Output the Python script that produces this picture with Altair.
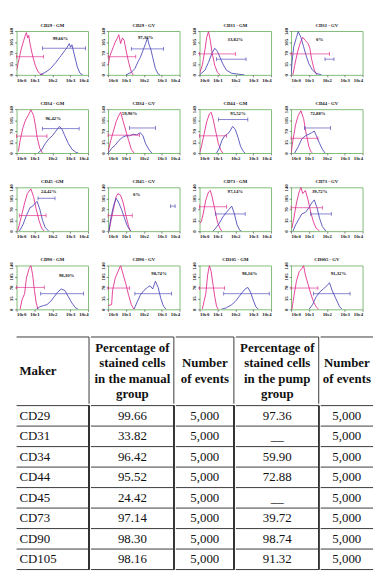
import altair as alt
import pandas as pd

SERIF = "Liberation Serif"
PINK = "#e0288a"
BLUE = "#4a46b8"
GREEN = "#7dbb73"
LINE = "#333333"

# ---------------- histogram panels ----------------
panels = ["CD29 - GM", "CD29 - GV", "CD31 - GM", "CD31 - GV",
          "CD34 - GM", "CD34 - GV", "CD44 - GM", "CD44 - GV",
          "CD45 -GM", "CD45 - GV", "CD73 - GM", "CD73 - GV",
          "CD90 - GM", "CD90 - GV", "CD105 - GM", "CD005 - GV"]

cd29_gm_pink = [(0, 15), (0.1, 40), (0.25, 80), (0.4, 110), (0.5, 128), (0.55, 135), (0.62, 118), (0.68, 126), (0.75, 100), (0.9, 60), (1.05, 30), (1.2, 10), (1.35, 2), (1.5, 0)]
cd29_gm_blue = [(1.3, 0), (1.6, 8), (1.9, 20), (2.2, 40), (2.4, 55), (2.5, 62), (2.6, 70), (2.7, 78), (2.8, 85), (2.9, 95), (2.95, 100), (3.02, 88), (3.1, 96), (3.25, 60), (3.4, 25), (3.55, 5), (3.7, 0)]
cd29_gv_pink = [(0, 30), (0.1, 60), (0.2, 75), (0.3, 90), (0.4, 105), (0.5, 115), (0.6, 128), (0.7, 100), (0.8, 118), (0.9, 110), (1.0, 80), (1.15, 40), (1.3, 10), (1.4, 0)]
cd29_gv_blue = [(1.0, 0), (1.3, 8), (1.5, 20), (1.7, 45), (1.8, 55), (1.9, 70), (2.0, 85), (2.1, 100), (2.2, 118), (2.3, 95), (2.4, 80), (2.5, 55), (2.65, 20), (2.8, 3), (2.9, 0)]
cd31_gm_pink = [(0, 5), (0.15, 30), (0.3, 80), (0.4, 120), (0.5, 138), (0.6, 110), (0.7, 70), (0.85, 30), (1.0, 8), (1.15, 0)]
cd31_gm_blue = [(0, 0), (0.3, 15), (0.5, 40), (0.7, 70), (0.85, 85), (1.0, 75), (1.15, 55), (1.3, 35), (1.5, 15), (1.8, 5), (2.2, 2), (2.5, 0)]
cd31_gv_pink = [(0.1, 0), (0.2, 30), (0.35, 70), (0.5, 100), (0.65, 120), (0.8, 110), (0.95, 100), (1.05, 85), (1.15, 50), (1.3, 15), (1.45, 0)]
cd31_gv_blue = [(0, 0), (0.05, 40), (0.15, 90), (0.3, 120), (0.4, 138), (0.55, 120), (0.7, 90), (0.85, 60), (1.0, 35), (1.2, 15), (1.4, 5), (1.7, 0)]
cd34_gm_pink = [(0.1, 5), (0.2, 40), (0.35, 80), (0.5, 105), (0.65, 120), (0.8, 138), (0.95, 120), (1.05, 90), (1.15, 50), (1.3, 15), (1.45, 0)]
cd34_gm_blue = [(1.2, 0), (1.4, 10), (1.6, 30), (1.8, 45), (2.0, 55), (2.2, 70), (2.4, 85), (2.55, 75), (2.7, 55), (2.9, 30), (3.1, 12), (3.3, 3), (3.45, 0)]
cd34_gv_pink = [(0, 5), (0.15, 40), (0.3, 70), (0.45, 100), (0.6, 120), (0.7, 130), (0.85, 100), (1.0, 70), (1.15, 40), (1.3, 12), (1.45, 0)]
cd34_gv_blue = [(0, 0), (0.2, 15), (0.4, 25), (0.6, 40), (0.8, 50), (1.0, 55), (1.2, 55), (1.4, 60), (1.6, 58), (1.8, 65), (1.95, 55), (2.1, 30), (2.3, 10), (2.45, 0)]
cd44_gm_pink = [(0, 0), (0.1, 20), (0.25, 60), (0.4, 100), (0.55, 125), (0.65, 130), (0.75, 110), (0.9, 70), (1.05, 30), (1.2, 8), (1.3, 0)]
cd44_gm_blue = [(0.95, 0), (1.1, 15), (1.25, 40), (1.4, 55), (1.55, 60), (1.7, 70), (1.85, 85), (2.0, 75), (2.15, 50), (2.3, 20), (2.45, 5), (2.55, 0)]
cd44_gv_pink = [(0, 0), (0.1, 40), (0.25, 90), (0.4, 120), (0.55, 135), (0.7, 110), (0.85, 60), (1.0, 20), (1.1, 5), (1.2, 0)]
cd44_gv_blue = [(0.2, 0), (0.4, 20), (0.6, 45), (0.8, 55), (1.0, 60), (1.15, 65), (1.3, 70), (1.45, 50), (1.6, 30), (1.75, 12), (1.9, 0)]
cd45_gm_pink = [(0.05, 0), (0.15, 20), (0.3, 55), (0.45, 90), (0.6, 120), (0.8, 135), (0.95, 110), (1.1, 70), (1.25, 35), (1.4, 10), (1.55, 0)]
cd45_gm_blue = [(0.15, 0), (0.35, 20), (0.55, 50), (0.75, 75), (0.9, 80), (1.05, 90), (1.15, 95), (1.3, 70), (1.45, 35), (1.6, 12), (1.8, 0)]
cd45_gv_pink = [(0.05, 0), (0.15, 30), (0.3, 70), (0.45, 110), (0.55, 120), (0.7, 115), (0.85, 90), (1.0, 50), (1.15, 15), (1.25, 0)]
cd45_gv_blue = [(0.05, 0), (0.15, 40), (0.3, 80), (0.45, 105), (0.6, 90), (0.75, 70), (0.9, 45), (1.05, 20), (1.2, 5), (1.3, 0)]
cd73_gm_pink = [(0, 25), (0.1, 30), (0.2, 55), (0.35, 100), (0.5, 125), (0.6, 130), (0.7, 110), (0.85, 70), (1.0, 30), (1.15, 8), (1.25, 0)]
cd73_gm_blue = [(0.75, 0), (0.9, 10), (1.1, 25), (1.3, 45), (1.5, 60), (1.65, 70), (1.8, 80), (1.95, 55), (2.1, 20), (2.25, 3), (2.35, 0)]
cd73_gv_pink = [(0.05, 10), (0.15, 40), (0.3, 90), (0.45, 125), (0.55, 140), (0.65, 120), (0.8, 130), (0.95, 100), (1.1, 60), (1.25, 30), (1.4, 10), (1.6, 0)]
cd73_gv_blue = [(0.1, 0), (0.25, 20), (0.45, 40), (0.6, 55), (0.8, 60), (1.0, 75), (1.15, 90), (1.3, 100), (1.45, 75), (1.6, 40), (1.75, 15), (1.95, 0)]
cd90_gm_pink = [(0.2, 0), (0.3, 30), (0.45, 50), (0.55, 100), (0.7, 130), (0.8, 140), (0.9, 110), (1.0, 60), (1.1, 20), (1.2, 0)]
cd90_gm_blue = [(1.1, 0), (1.3, 8), (1.5, 12), (1.7, 15), (1.9, 25), (2.1, 40), (2.3, 55), (2.5, 65), (2.7, 60), (2.9, 40), (3.1, 20), (3.3, 5), (3.45, 0)]
cd90_gv_pink = [(0, 12), (0.2, 15), (0.25, 60), (0.4, 100), (0.55, 120), (0.7, 140), (0.85, 110), (1.0, 80), (1.15, 45), (1.3, 15), (1.45, 0)]
cd90_gv_blue = [(1.45, 0), (1.6, 20), (1.8, 45), (2.0, 60), (2.2, 70), (2.35, 75), (2.5, 65), (2.65, 90), (2.8, 70), (2.95, 35), (3.1, 10), (3.25, 0)]
cd105_gm_pink = [(0.15, 0), (0.25, 25), (0.35, 50), (0.45, 110), (0.55, 140), (0.65, 120), (0.75, 80), (0.85, 40), (0.95, 10), (1.05, 0)]
cd105_gm_blue = [(1.2, 0), (1.5, 5), (1.8, 15), (2.0, 25), (2.2, 40), (2.4, 55), (2.55, 65), (2.7, 70), (2.85, 55), (3.0, 30), (3.15, 8), (3.3, 0)]
cd105_gv_pink = [(0.05, 0), (0.15, 40), (0.3, 90), (0.45, 120), (0.6, 130), (0.7, 140), (0.8, 110), (0.95, 80), (1.1, 50), (1.25, 25), (1.4, 8), (1.55, 0)]
cd105_gv_blue = [(1.0, 0), (1.2, 15), (1.4, 40), (1.6, 55), (1.8, 65), (2.0, 75), (2.15, 85), (2.3, 60), (2.5, 35), (2.7, 10), (2.85, 0)]

pink_curves = [cd29_gm_pink, cd29_gv_pink, cd31_gm_pink, cd31_gv_pink,
               cd34_gm_pink, cd34_gv_pink, cd44_gm_pink, cd44_gv_pink,
               cd45_gm_pink, cd45_gv_pink, cd73_gm_pink, cd73_gv_pink,
               cd90_gm_pink, cd90_gv_pink, cd105_gm_pink, cd105_gv_pink]
blue_curves = [cd29_gm_blue, cd29_gv_blue, cd31_gm_blue, cd31_gv_blue,
               cd34_gm_blue, cd34_gv_blue, cd44_gm_blue, cd44_gv_blue,
               cd45_gm_blue, cd45_gv_blue, cd73_gm_blue, cd73_gv_blue,
               cd90_gm_blue, cd90_gv_blue, cd105_gm_blue, cd105_gv_blue]

# gate markers: (from decade, to decade, count level)
pink_gates = [(0, 1.5, 58), (0, 1.55, 58), (0, 2.0, 67), (0, 2.15, 67),
              (0, 1.7, 54), (0, 1.75, 57), (0, 1.5, 55), (0, 1.5, 47),
              (0.15, 1.65, 50), (0, 1.35, 50), (0, 1.5, 78), (0, 1.75, 75),
              (0, 1.55, 70), (0, 1.2, 68), (0, 1.4, 68), (0, 1.5, 68)]
blue_gates = [(1.45, 3.85, 85), (1.3, 3.1, 83), (0.95, 2.6, 50), (1.9, 2.4, 50),
              (1.45, 3.5, 78), (1.2, 2.65, 80), (1.05, 2.7, 107), (0.75, 2.2, 80),
              (1.2, 2.15, 105), (3.5, 3.75, 80), (0.9, 2.55, 55), (1.1, 2.25, 55),
              (1.35, 3.75, 50), (1.5, 3.55, 50), (1.35, 3.9, 50), (1.25, 3.3, 50)]

pct_labels = ["99,66%", "97,36%", "33,82%", "0%", "96,42%", "59,90%", "95,52%", "72,88%",
              "24,42%", "0%", "97,14%", "39,72%", "98,30%", "98,74%", "98,16%", "91,32%"]
pct_label_at = [(2.45, 118), (2.1, 120), (2.0, 115), (1.6, 115), (2.05, 112), (1.2, 128),
                (2.15, 128), (1.5, 128), (1.8, 128), (1.6, 118), (2.0, 128), (1.6, 128),
                (2.8, 110), (2.85, 115), (2.8, 115), (2.65, 115)]

xs = alt.Scale(domain=[0, 4], nice=False, zero=False)
ys = alt.Scale(domain=[0, 140], nice=False)
cs = alt.Scale(domain=["pink", "blue"], range=[PINK, BLUE])
x_axis = alt.Axis(values=[0, 1, 2, 3, 4], labelExpr="'10e' + datum.value", labelOverlap=False)
y_axis = alt.Axis(values=[0, 35, 70, 105, 140], labelAngle=270, labelOverlap=False)

PW, PH = 75, 46


def panel(k):
    curve_rows = []
    for series, pts in (("pink", pink_curves[k]), ("blue", blue_curves[k])):
        for i, (x, y) in enumerate(pts):
            curve_rows.append(dict(series=series, i=i, x=x, y=y))
    gate_rows = [dict(series="pink", x1=pink_gates[k][0], x2=pink_gates[k][1], gy=pink_gates[k][2]),
                 dict(series="blue", x1=blue_gates[k][0], x2=blue_gates[k][1], gy=blue_gates[k][2])]
    label_rows = [dict(label=pct_labels[k], lx=pct_label_at[k][0], ly=pct_label_at[k][1])]
    cdf = pd.DataFrame(curve_rows)
    gdf = pd.DataFrame(gate_rows)
    ldf = pd.DataFrame(label_rows)

    curves = alt.Chart(cdf).mark_line(strokeWidth=0.9, clip=True).encode(
        x=alt.X("x:Q", scale=xs, title=None, axis=x_axis),
        y=alt.Y("y:Q", scale=ys, title=None, axis=y_axis),
        color=alt.Color("series:N", scale=cs, legend=None),
        order="i:Q",
    )
    gates = alt.Chart(gdf).mark_rule(strokeWidth=0.8, opacity=0.85).encode(
        x=alt.X("x1:Q", scale=xs, title=None, axis=x_axis), x2="x2:Q",
        y=alt.Y("gy:Q", scale=ys, title=None, axis=y_axis),
        color=alt.Color("series:N", scale=cs, legend=None),
    )
    caps = alt.Chart(gdf).transform_fold(["x1", "x2"], as_=["end", "xe"]).mark_tick(
        orient="vertical", size=4, thickness=0.8, opacity=0.85).encode(
        x=alt.X("xe:Q", scale=xs, title=None, axis=x_axis),
        y=alt.Y("gy:Q", scale=ys, title=None, axis=y_axis),
        color=alt.Color("series:N", scale=cs, legend=None),
    )
    labels = alt.Chart(ldf).mark_text(font=SERIF, fontSize=5, fontWeight="bold", color="#111").encode(
        x=alt.X("lx:Q", scale=xs, title=None, axis=x_axis),
        y=alt.Y("ly:Q", scale=ys, title=None, axis=y_axis),
        text="label:N",
    )
    return alt.layer(curves, gates, caps, labels).properties(
        width=PW, height=PH,
        view=alt.ViewBackground(stroke=GREEN, strokeWidth=1),
        title=alt.TitleParams(panels[k], font=SERIF, fontSize=5, fontWeight="bold",
                              color="#111", anchor="middle", offset=0),
    )


grid = alt.vconcat(
    *[alt.hconcat(*[panel(r * 4 + c) for c in range(4)], spacing=11) for r in range(4)],
    spacing=17,
)

# ---------------- table ----------------
makers = ["CD29", "CD31", "CD34", "CD44", "CD45", "CD73", "CD90", "CD105"]
manual_pct = ["99.66", "33.82", "96.42", "95.52", "24.42", "97.14", "98.30", "98.16"]
manual_events = ["5,000", "5,000", "5,000", "5,000", "5,000", "5,000", "5,000", "5,000"]
pump_pct = ["97.36", "__", "59.90", "72.88", "__", "39.72", "98.74", "91.32"]
pump_events = ["5,000", "5,000", "5,000", "5,000", "5,000", "5,000", "5,000", "5,000"]
headers = ["Maker",
           "Percentage of\nstained cells\nin the manual\ngroup",
           "Number\nof events",
           "Percentage of\nstained cells\nin the pump\ngroup",
           "Number\nof events"]

table_df = pd.DataFrame({"maker": makers, "manual_pct": manual_pct, "manual_events": manual_events,
                         "pump_pct": pump_pct, "pump_events": pump_events})
fields = ["maker", "manual_pct", "manual_events", "pump_pct", "pump_events"]
col_widths = [76, 87, 61, 87, 55]
ROW_H = 21.5
HEAD_H = 70
LH = 16.3
FS = 13.5

yband = alt.Scale(paddingInner=0, paddingOuter=0)


def header_cell(k):
    w = col_widths[k]
    n = headers[k].count("\n") + 1
    first_y = HEAD_H / 2 - (n - 1) * LH / 2 + 1
    hdf = pd.DataFrame({"h": [headers[k]]})
    base = alt.Chart(hdf)
    if k == 0:
        txt = base.mark_text(font=SERIF, fontSize=FS, fontWeight="bold", align="left",
                             baseline="middle", lineBreak="\n", lineHeight=LH,
                             color="#111").encode(text="h:N", x=alt.value(3), y=alt.value(first_y))
    else:
        txt = base.mark_text(font=SERIF, fontSize=FS, fontWeight="bold", align="center",
                             baseline="middle", lineBreak="\n", lineHeight=LH,
                             color="#111").encode(text="h:N", x=alt.value(w / 2), y=alt.value(first_y))
    layers = [txt, base.mark_rule(color=LINE, strokeWidth=1).encode(y=alt.value(0))]
    if k < 4:
        layers.append(base.mark_rule(color=LINE, strokeWidth=1).encode(x=alt.value(w)))
    return alt.layer(*layers).properties(width=w, height=HEAD_H)


def body_col(k):
    w = col_widths[k]
    f = fields[k]
    base = alt.Chart(table_df)
    yenc = alt.Y("maker:N", sort=makers, axis=None, scale=yband)
    if k == 0:
        txt = base.mark_text(font=SERIF, fontSize=FS, align="left", baseline="middle",
                             color="#111").encode(y=yenc, text=f"{f}:N", x=alt.value(3))
    else:
        txt = base.mark_text(font=SERIF, fontSize=FS, align="center", baseline="middle",
                             color="#111").encode(y=yenc, text=f"{f}:N", x=alt.value(w / 2))
    tops = base.mark_rule(color=LINE, strokeWidth=1).encode(
        y=alt.Y("maker:N", sort=makers, axis=None, scale=yband, bandPosition=0))
    bottom = base.transform_filter(alt.datum.maker == makers[-1]).mark_rule(
        color=LINE, strokeWidth=1).encode(
        y=alt.Y("maker:N", sort=makers, axis=None, scale=yband, bandPosition=1))
    layers = [txt, tops, bottom]
    if k < 4:
        layers.append(base.mark_rule(color=LINE, strokeWidth=1).encode(x=alt.value(w)))
    return alt.layer(*layers).properties(width=w, height=ROW_H * len(makers))


table = alt.vconcat(
    alt.hconcat(*[header_cell(k) for k in range(5)], spacing=0),
    alt.hconcat(*[body_col(k) for k in range(5)], spacing=0),
    spacing=0,
)

chart = alt.vconcat(grid, table, spacing=19).properties(padding=0).configure_view(
    stroke=None).configure_axis(
    labelFont=SERIF, labelFontSize=5, labelFontWeight="bold", labelColor="#111",
    tickSize=2, tickColor="#333", tickWidth=0.6, domain=False, grid=False,
    labelPadding=1,
)

chart.save("out.html", embed_options={"renderer": "svg", "actions": False})
